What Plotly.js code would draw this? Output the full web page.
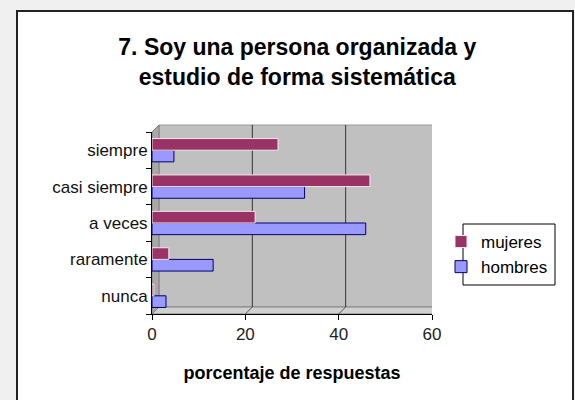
<!DOCTYPE html>
<html>
<head>
<meta charset="utf-8">
<script src="https://cdn.plot.ly/plotly-3.0.1.min.js"></script>
<style>
  html, body { margin: 0; padding: 0; background: #f0f0f0; width: 575px; height: 400px; overflow: hidden; }
  #frame { position: absolute; left: 16px; top: 10px; width: 554px; height: 400px; border: 2px solid #222; background: #ffffff; }
  #chart { position: absolute; left: 0; top: 0; width: 575px; height: 400px; }
</style>
</head>
<body>
<div id="frame"></div>
<div id="chart"></div>
<script>
const categories = ["nunca", "raramente", "a veces", "casi siempre", "siempre"];
const mujeres = [0.4, 3.6, 22.1, 46.7, 27.0];
const hombres = [3.0, 13.1, 45.8, 32.7, 4.7];
const xTicks = [0, 20, 40, 60];

const FONT = "Liberation Sans, Arial, sans-serif";
const dx = 1.5;      // depth offset in x data units
const dy = 0.0385;   // depth offset in paper units

// plot area in pixels, used to place the legend frame in paper units
const PL = 152, PR = 432, PT = 132, PB = 314;
const px2paperX = p => (p - PL) / (PR - PL);
const px2paperY = p => (PB - p) / (PB - PT);

const shapes = [];
// back wall
shapes.push({type: "rect", layer: "below", xref: "x", yref: "paper",
  x0: dx, x1: 60 + dx, y0: dy, y1: 1 + dy,
  fillcolor: "#c0c0c0", line: {color: "#9a9a9a", width: 1}});
// left side wall
shapes.push({type: "path", layer: "below", xref: "x", yref: "paper",
  path: `M0,0 L0,1 L${dx},${1 + dy} L${dx},${dy} Z`,
  fillcolor: "#a8a8a8", line: {color: "#808080", width: 1}});
// floor
shapes.push({type: "path", layer: "below", xref: "x", yref: "paper",
  path: `M0,0 L60,0 L${60 + dx},${dy} L${dx},${dy} Z`,
  fillcolor: "#d0d0d0", line: {color: "#808080", width: 1}});
// gridlines on back wall + floor diagonals
xTicks.forEach(v => {
  if (v > 0 && v < 60) {
    shapes.push({type: "line", layer: "below", xref: "x", yref: "paper",
      x0: v + dx, x1: v + dx, y0: dy, y1: 1 + dy, line: {color: "#333", width: 1}});
  }
  if (v > 0) {
    shapes.push({type: "line", layer: "below", xref: "x", yref: "paper",
      x0: v, x1: v + dx, y0: 0, y1: dy, line: {color: "#555", width: 1}});
  }
});
// legend frame
shapes.push({type: "rect", layer: "below", xref: "paper", yref: "paper",
  x0: px2paperX(463), x1: px2paperX(555), y0: px2paperY(285), y1: px2paperY(224),
  fillcolor: "#ffffff", line: {color: "#000", width: 1}});

const data = [
  {type: "bar", orientation: "h", name: "hombres", y: categories, x: hombres,
   marker: {color: "#9999ff", line: {color: "#000066", width: 1}}},
  {type: "bar", orientation: "h", name: "mujeres", y: categories, x: mujeres,
   marker: {color: "#993366", line: {color: "#f4e6ee", width: 1}}}
];

const layout = {
  width: 575, height: 400,
  paper_bgcolor: "rgba(0,0,0,0)", plot_bgcolor: "rgba(0,0,0,0)",
  margin: {l: PL, r: 575 - PR, t: PT, b: 400 - PB},
  font: {family: FONT, color: "#000"},
  title: {text: "7. Soy una persona organizada y<br>estudio de forma sistemática",
    font: {family: FONT, size: 23, color: "#000", weight: "bold"},
    x: 0.517, xref: "container", xanchor: "center",
    y: 1 - 55 / 400, yref: "container", yanchor: "top"},
  barmode: "group", bargap: 0.36, bargroupgap: 0,
  xaxis: {range: [0, 60], tickvals: xTicks, ticktext: xTicks.map(String),
    showgrid: false, zeroline: false, showline: true, linecolor: "#000", linewidth: 1,
    ticks: "outside", ticklen: 5, tickcolor: "#000",
    tickfont: {family: FONT, size: 17, color: "#222"},
    title: {text: "porcentaje de respuestas", standoff: 22,
      font: {family: FONT, size: 18, color: "#000", weight: "bold"}}},
  yaxis: {categoryorder: "array", categoryarray: categories,
    showgrid: false, zeroline: false, showline: true, linecolor: "#000", linewidth: 1,
    ticks: "outside", ticklen: 5, tickcolor: "#000", tickson: "boundaries",
    tickfont: {family: FONT, size: 17, color: "#111"}},
  showlegend: true,
  legend: {traceorder: "reversed", xref: "container", yref: "container",
    x: 441 / 575, y: 1 - 224 / 400, xanchor: "left", yanchor: "top",
    bgcolor: "rgba(0,0,0,0)", borderwidth: 0,
    itemwidth: 30, font: {family: FONT, size: 17, color: "#000"}},
  shapes: shapes
};

Plotly.newPlot("chart", data, layout, {displayModeBar: false, staticPlot: true});
</script>
</body>
</html>
